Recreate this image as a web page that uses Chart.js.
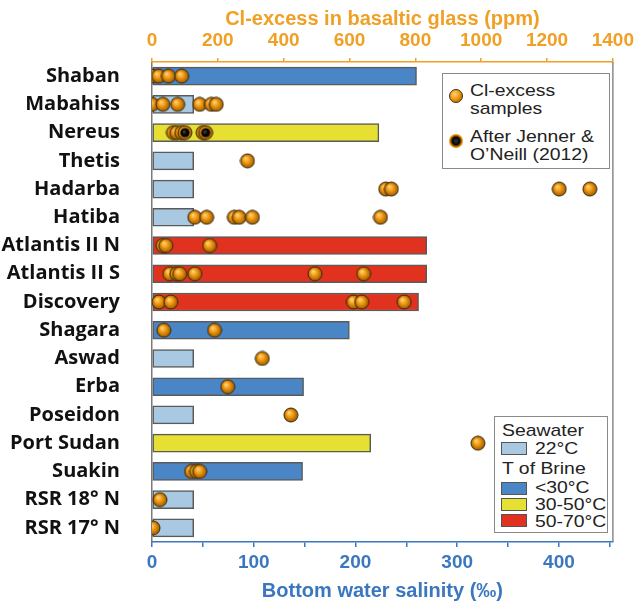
<!DOCTYPE html>
<html><head><meta charset="utf-8">
<script src="https://cdn.jsdelivr.net/npm/chart.js@4"></script>
<style>
body{margin:0;background:#fff;}
#wrap{position:relative;width:640px;height:604px;}
canvas{position:absolute;left:0;top:0;}
.lg{position:absolute;background:#fff;border:1.5px solid #8a8a8a;box-sizing:border-box;font-family:"Liberation Sans",Arial,sans-serif;color:#222;}
.t{position:absolute;font-size:17px;line-height:18px;white-space:nowrap;transform:scaleX(1.14);transform-origin:0 50%;}
.sw{position:absolute;width:26px;height:13px;border:1.5px solid #555;box-sizing:border-box;}
.dot{position:absolute;width:14px;height:14px;border-radius:50%;box-sizing:border-box;}
</style></head>
<body><div id="wrap"><canvas id="c" width="640" height="604"></canvas>
<div class="lg" style="left:442px;top:73px;width:168px;height:96px;">
  <div class="dot" style="left:6px;top:15px;border:1px solid #3a2a10;background:radial-gradient(circle at 38% 35%,#ffd27a 0%,#f29a10 45%,#9a5a00 100%);"></div>
  <div class="t" style="left:27px;top:8px;">Cl-excess</div>
  <div class="t" style="left:27px;top:26px;">samples</div>
  <div class="dot" style="left:6px;top:60px;background:radial-gradient(circle at 50% 50%,#333 0%,#050505 38%,#7a4a00 50%,#f29a10 64%,#b06800 100%);"></div>
  <div class="t" style="left:27px;top:54px;">After Jenner &amp;</div>
  <div class="t" style="left:27px;top:72px;">O’Neill (2012)</div>
</div>
<div class="lg" style="left:494px;top:416px;width:114px;height:117px;">
  <div class="t" style="left:7px;top:5px;">Seawater</div>
  <div class="sw" style="left:6px;top:25px;background:#a8c9e1;"></div>
  <div class="t" style="left:40px;top:23px;">22°C</div>
  <div class="t" style="left:7px;top:43px;">T of Brine</div>
  <div class="sw" style="left:6px;top:65px;background:#4a86c6;"></div>
  <div class="t" style="left:40px;top:62px;">&lt;30°C</div>
  <div class="sw" style="left:6px;top:81px;background:#e6e033;"></div>
  <div class="t" style="left:40px;top:79px;">30-50°C</div>
  <div class="sw" style="left:6px;top:97px;background:#e0321f;"></div>
  <div class="t" style="left:40px;top:96px;">50-70°C</div>
</div>
</div>
<script>
const sites = ['Shaban','Mabahiss','Nereus','Thetis','Hadarba','Hatiba','Atlantis II N','Atlantis II S','Discovery','Shagara','Aswad','Erba','Poseidon','Port Sudan','Suakin','RSR 18° N','RSR 17° N'];
const salinity = [260,41,223,41,41,41,270,270,262,194,41,149,41,215,148,41,41];
const brineClass = ['lt30','sea','30-50','sea','sea','sea','50-70','50-70','50-70','lt30','sea','lt30','sea','30-50','lt30','sea','sea'];
const clSamples = [
  [0,20,50,90],
  [0,33,78,145,180,195],
  [65,75,90,155],
  [290],
  [710,727,1237,1330],
  [130,166,250,265,305,694],
  [33,42,175],
  [54,75,84,130,495,643],
  [21,57,612,637,766],
  [36,190],
  [335],
  [230],
  [422],
  [990],
  [120,135,145],
  [24],
  [3]
];
const clJenner = [[],[],[100,163],[],[],[],[],[],[],[],[],[],[],[],[],[],[]];
const salinityTicksMax = 453;
const clTicksMax = 1400;

const classColors = {'sea':'#a8c9e1','lt30':'#4a86c6','30-50':'#e6e033','50-70':'#e0321f'};
const ORANGE = '#f0a024', BLUE = '#3a77bf';

function sphere(jenner){
  const s=16, cx=8, cy=8, r=7;
  const c=document.createElement('canvas'); c.width=c.height=s;
  const g=c.getContext('2d');
  const gr=g.createRadialGradient(cx-2,cy-2.5,0.5,cx,cy,r);
  gr.addColorStop(0,'#ffd27a'); gr.addColorStop(0.45,'#f29a10'); gr.addColorStop(1,'#9a5a00');
  g.fillStyle=gr; g.beginPath(); g.arc(cx,cy,r,0,Math.PI*2); g.fill();
  g.strokeStyle='#3a2a10'; g.lineWidth=1; g.stroke();
  if(jenner){
    const gb=g.createRadialGradient(cx-1,cy-1,0.3,cx,cy,4.6);
    gb.addColorStop(0,'#444'); gb.addColorStop(0.5,'#080808'); gb.addColorStop(1,'#000');
    g.fillStyle=gb; g.beginPath(); g.arc(cx,cy,4.6,0,Math.PI*2); g.fill();
  }
  return c;
}
const orangeDot = sphere(false), jennerDot = sphere(true);

function toPoints(arr){
  const out=[];
  arr.forEach((vals,i)=>vals.forEach(v=>out.push({x:v,y:sites[i]})));
  return out;
}

const rightBorder = {
  id:'rightBorder',
  afterDraw(chart){
    const {ctx, chartArea:a} = chart;
    ctx.save(); ctx.strokeStyle='#8a8a8a'; ctx.lineWidth=1.5;
    ctx.beginPath(); ctx.moveTo(a.right,a.top); ctx.lineTo(a.right,a.bottom); ctx.stroke();
    ctx.restore();
  }
};

new Chart(document.getElementById('c'), {
  data:{
    labels: sites,
    datasets:[
      {type:'bar', indexAxis:'y', data:salinity, xAxisID:'x', yAxisID:'y',
       backgroundColor: brineClass.map(k=>classColors[k]), borderColor:'#5a5a5a', borderWidth:1.5,
       borderSkipped:false, grouped:false, barThickness:18, order:3},
      {type:'scatter', data:toPoints(clSamples), xAxisID:'x2', yAxisID:'y',
       pointStyle:orangeDot, pointRadius:7, order:2},
      {type:'scatter', data:toPoints(clJenner), xAxisID:'x2', yAxisID:'y',
       pointStyle:jennerDot, pointRadius:7, order:1}
    ]
  },
  options:{
    responsive:false, animation:false,
    layout:{padding:{left:0,right:24,top:0,bottom:0}},
    plugins:{legend:{display:false}, tooltip:{enabled:false}},
    scales:{
      y:{type:'category', position:'left', offset:true,
         grid:{display:false},
         border:{display:true,color:'#7a7a7a',width:1.5},
         ticks:{color:'#111', padding:24, font:{family:'"Open Sans", sans-serif', weight:'bold', size:20}},
         afterFit(s){ s.width=152; }},
      x:{type:'linear', position:'bottom', min:0, max:salinityTicksMax,
         grid:{drawOnChartArea:false, color:BLUE, tickLength:5, lineWidth:1.5},
         border:{display:true,color:BLUE,width:1.5},
         ticks:{stepSize:50, includeBounds:false, color:BLUE, padding:4,
                font:{family:'"Liberation Sans", Arial, sans-serif', weight:'bold', size:19},
                callback:v=> v%100===0 ? String(v) : ''},
         title:{display:true, text:'Bottom water salinity (‰)', color:BLUE,
                font:{family:'"Liberation Sans", Arial, sans-serif', weight:'bold', size:20},
                padding:{top:0,bottom:1}},
         afterFit(s){ s.height=62; }},
      x2:{type:'linear', position:'top', min:0, max:clTicksMax,
         grid:{drawOnChartArea:false, color:ORANGE, tickLength:4, lineWidth:1.5},
         border:{display:true,color:ORANGE,width:1.5},
         ticks:{stepSize:200, color:ORANGE, padding:6,
                font:{family:'"Liberation Sans", Arial, sans-serif', weight:'bold', size:19},
                callback:v=> String(v)},
         title:{display:true, text:'Cl-excess in basaltic glass (ppm)', color:ORANGE,
                font:{family:'"Liberation Sans", Arial, sans-serif', weight:'bold', size:20},
                padding:{top:7,bottom:0}},
         afterFit(s){ s.height=62; }}
    }
  },
  plugins:[rightBorder]
});
</script>
</body></html>
